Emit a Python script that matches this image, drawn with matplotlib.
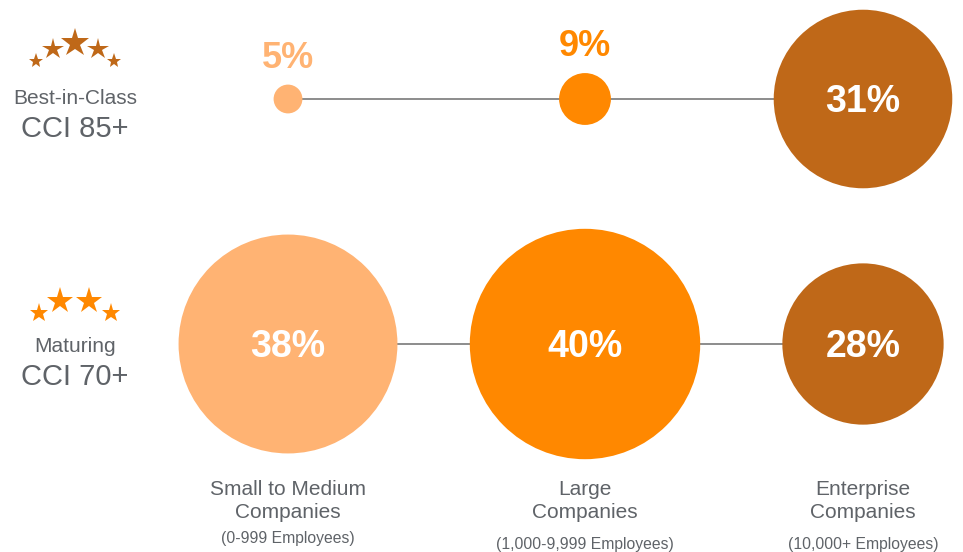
import matplotlib.pyplot as plt
from matplotlib.patches import Circle

plt.rcParams['font.family'] = ['Liberation Sans', 'DejaVu Sans']

# data
segments = ['Small to Medium\nCompanies', 'Large\nCompanies', 'Enterprise\nCompanies']
employees = ['(0-999 Employees)', '(1,000-9,999 Employees)', '(10,000+ Employees)']
tiers = ['Best-in-Class', 'Maturing']
tier_cci = ['CCI 85+', 'CCI 70+']
best_in_class = [5, 9, 31]
maturing = [38, 40, 28]

colors = ['#FFB373', '#FF8800', '#BF6818']
star_colors = ['#BF6818', '#FF8800']
gray = '#5F6368'

# layout (pixel space)
col_x = [288, 585, 863]
row_y = [99, 344]
px_per_pct = 2.88

fig = plt.figure(figsize=(9.63, 5.52), dpi=100)
ax = fig.add_axes([0, 0, 1, 1])
ax.set_xlim(0, 963)
ax.set_ylim(552, 0)
ax.axis('off')

for r, vals in enumerate([best_in_class, maturing]):
    y = row_y[r]
    ax.plot([col_x[0], col_x[-1]], [y, y], color='#6E6E6E', lw=1.1, zorder=1)
    for c, v in enumerate(vals):
        rad = v * px_per_pct
        ax.add_patch(Circle((col_x[c], y), rad, color=colors[c], lw=0, zorder=2))
        label = f'{v}%'
        if rad < 40:
            ax.text(col_x[c], y - rad - 17, label, ha='center', va='baseline',
                    fontsize=26, fontweight='bold', color=colors[c], zorder=3)
        else:
            ax.text(col_x[c], y + 13, label, ha='center', va='baseline',
                    fontsize=27, fontweight='bold', color='white', zorder=3)

# tier labels with stars
ax.text(75, 98, tiers[0], ha='center', va='center', fontsize=15, color=gray)
ax.text(75, 129, tier_cci[0], ha='center', va='center', fontsize=21, color=gray)
ax.text(75, 346, tiers[1], ha='center', va='center', fontsize=15, color=gray)
ax.text(75, 377, tier_cci[1], ha='center', va='center', fontsize=21, color=gray)

top_stars = [(36, 61, 11), (53, 49, 16), (75, 43, 21), (98, 49, 16), (114, 61, 11)]
for sx, sy, ms in top_stars:
    ax.plot(sx, sy, marker='*', ms=ms, color=star_colors[0], mew=0)
bottom_stars = [(39, 313, 14), (60, 301, 20), (89, 301, 20), (111, 313, 14)]
for sx, sy, ms in bottom_stars:
    ax.plot(sx, sy, marker='*', ms=ms, color=star_colors[1], mew=0)

# column labels
emp_y = [539, 544, 544]
for c in range(3):
    ax.text(col_x[c], 501, segments[c], ha='center', va='center', fontsize=15,
            color=gray, linespacing=1.32)
    ax.text(col_x[c], emp_y[c], employees[c], ha='center', va='center',
            fontsize=11.3, color=gray)

fig.savefig('out.png', dpi=100)
